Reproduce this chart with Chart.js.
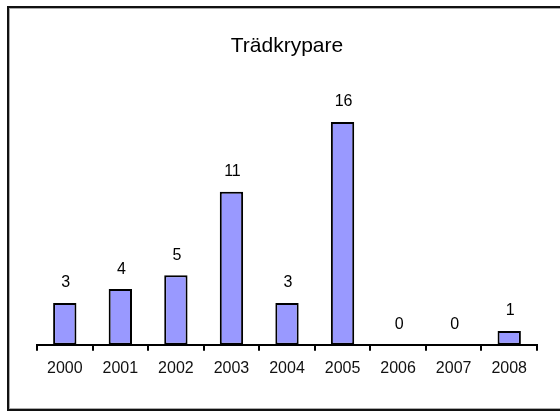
<!DOCTYPE html>
<html>
<head>
<meta charset="utf-8">
<script src="https://cdn.jsdelivr.net/npm/chart.js@4.4.1/dist/chart.umd.min.js"></script>
<style>
  html, body { margin: 0; padding: 0; background: #fff; }
  #wrap { position: relative; width: 560px; height: 411px; }
</style>
</head>
<body>
<div id="wrap"><canvas id="chart" width="560" height="411"></canvas></div>
<script>
const years = ["2000", "2001", "2002", "2003", "2004", "2005", "2006", "2007", "2008"];
const counts = [3, 4, 5, 11, 3, 16, 0, 0, 1];
const chartTitle = "Trädkrypare";

// frame around the whole chart (left, top and bottom edges)
const framePlugin = {
  id: "frame",
  beforeDraw(chart) {
    const c = chart.ctx;
    c.save();
    c.fillStyle = "#111";
    c.fillRect(7, 6, 2, 404);
    c.fillRect(7, 6, 560, 2);
    c.fillRect(7, 409, 560, 2);
    c.fillStyle = "#aaa";
    c.fillRect(9, 8, 1, 401);
    c.fillRect(9, 8, 560, 1);
    c.fillRect(9, 408, 560, 1);
    c.restore();
  },
};

// value written above each bar
const valueLabels = {
  id: "valueLabels",
  afterDatasetsDraw(chart) {
    const c = chart.ctx;
    const meta = chart.getDatasetMeta(0);
    c.save();
    c.font = "16px 'Liberation Sans', Arial, sans-serif";
    c.fillStyle = "#000";
    c.textAlign = "center";
    c.textBaseline = "middle";
    meta.data.forEach((bar, i) => {
      c.fillText(String(counts[i]), bar.x + 1, bar.y - 20);
    });
    c.restore();
  },
};

new Chart(document.getElementById("chart"), {
  type: "bar",
  data: {
    labels: years,
    datasets: [
      {
        data: counts,
        backgroundColor: "#9999ff",
        borderColor: "#000",
        borderWidth: 2,
        borderSkipped: false,
        categoryPercentage: 1,
        barPercentage: 0.42,
      },
    ],
  },
  options: {
    responsive: false,
    animation: false,
    layout: { padding: { left: 37, right: 23, top: 0, bottom: 25 } },
    scales: {
      x: {
        offset: true,
        grid: { offset: true, drawOnChartArea: false, tickLength: 6, color: "#000", lineWidth: 2 },
        border: { display: true, color: "#000", width: 2 },
        ticks: { color: "#111", font: { family: "'Liberation Sans', Arial, sans-serif", size: 16 }, padding: 8 },
      },
      y: { display: false, min: 0, max: 18 },
    },
    plugins: {
      legend: { display: false },
      tooltip: { enabled: false },
      title: {
        display: true,
        text: chartTitle,
        color: "#000",
        font: { family: "'Liberation Sans', Arial, sans-serif", size: 21, weight: "normal" },
        padding: { top: 34, bottom: 35 },
      },
    },
  },
  plugins: [framePlugin, valueLabels],
});
</script>
</body>
</html>
